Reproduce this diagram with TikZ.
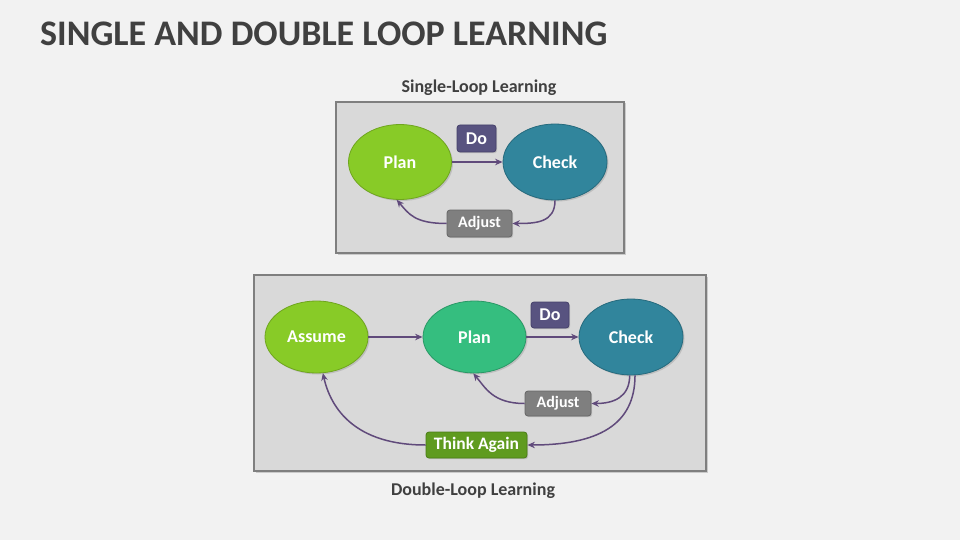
\documentclass[tikz,border=0pt]{standalone}
\usepackage{fontspec}
\setmainfont{Carlito}
\usetikzlibrary{arrows.meta,shadows,shapes.geometric}
\definecolor{bgc}{HTML}{F2F2F2}
\definecolor{panel}{HTML}{D9D9D9}
\definecolor{panelline}{HTML}{7F7F7F}
\definecolor{lime}{HTML}{88CB27}
\definecolor{limeline}{HTML}{6FA51E}
\definecolor{seag}{HTML}{35BE7F}
\definecolor{seagline}{HTML}{2A9866}
\definecolor{teal}{HTML}{31859C}
\definecolor{tealline}{HTML}{266A7D}
\definecolor{dobox}{HTML}{585380}
\definecolor{doline}{HTML}{45406A}
\definecolor{adjbox}{HTML}{7F7F7F}
\definecolor{adjline}{HTML}{666666}
\definecolor{thinkbox}{HTML}{5F9B1F}
\definecolor{thinkline}{HTML}{4A7C16}
\definecolor{arrowc}{HTML}{604A7B}
\definecolor{darktext}{HTML}{404040}
\begin{document}
\begin{tikzpicture}[x=1pt,y=-1pt,
  panelbox/.style={draw=panelline,line width=1.5pt,fill=panel,inner sep=0pt,
    drop shadow={opacity=0.35,shadow xshift=1.5pt,shadow yshift=-1.5pt}},
  oval/.style={ellipse,draw,line width=0.8pt,minimum width=103pt,minimum height=75pt,inner sep=0pt,
    text=white,font=\bfseries\fontsize{18}{21}\selectfont,
    drop shadow={opacity=0.3,shadow xshift=1.5pt,shadow yshift=-1.5pt}},
  tag/.style={draw,line width=0.8pt,rounded corners=3pt,inner sep=0pt,text=white,
    drop shadow={opacity=0.3,shadow xshift=1.2pt,shadow yshift=-1.2pt}},
  arr/.style={draw=arrowc,line width=1.5pt,-{Stealth[length=7.5pt,width=6.5pt,inset=2.5pt]}},
  caption/.style={text=darktext,font=\bfseries\fontsize{18}{21}\selectfont}
]
\fill[bgc] (0,0) rectangle (960,540);
\useasboundingbox (0,0) rectangle (960,540);

\node[anchor=base west,text=darktext,font=\bfseries\fontsize{36}{40}\selectfont,inner sep=0pt] (title) at (40,46) {SINGLE AND DOUBLE LOOP LEARNING};

% Single loop
\node[caption] (cap1) at (479,88) {Single-Loop Learning};
\node[panelbox,minimum width=288pt,minimum height=151pt] (box1) at (480,177.5) {};
\node[oval,fill=lime,draw=limeline] (p1) at (400,162) {Plan};
\node[oval,fill=teal,draw=tealline,minimum width=104pt,minimum height=76pt] (c1) at (555,162) {Check};
\node[tag,fill=dobox,draw=doline,minimum width=39pt,minimum height=27pt,font=\bfseries\fontsize{18}{20}\selectfont] (do1) at (476.5,138.5) {Do};
\node[tag,fill=adjbox,draw=adjline,minimum width=65pt,minimum height=27pt,font=\bfseries\fontsize{16}{18}\selectfont] (adj1) at (479.5,223.5) {Adjust};
\draw[arr] (p1.east) -- (c1.west);
\draw[arr] (c1.south) .. controls +(0,22) and +(24,0) .. (adj1.east);
\draw[arr] (adj1.west) .. controls +(-32,0) and +(12,14) .. (p1.-95);

% Double loop
\node[panelbox,minimum width=452pt,minimum height=196pt] (box2) at (480,373) {};
\node[caption] (cap2) at (473,491) {Double-Loop Learning};
\node[oval,fill=lime,draw=limeline,minimum height=72pt] (a2) at (316.5,337) {Assume};
\node[oval,fill=seag,draw=seagline,minimum height=72pt] (p2) at (474.5,337) {Plan};
\node[oval,fill=teal,draw=tealline,minimum width=104pt,minimum height=76pt] (c2) at (631,337) {Check};
\node[tag,fill=dobox,draw=doline,minimum width=38pt,minimum height=26pt,font=\bfseries\fontsize{18}{20}\selectfont] (do2) at (550,315) {Do};
\node[tag,fill=adjbox,draw=adjline,minimum width=66pt,minimum height=25pt,font=\bfseries\fontsize{16}{18}\selectfont] (adj2) at (558,403.5) {Adjust};
\node[tag,fill=thinkbox,draw=thinkline,minimum width=101pt,minimum height=26pt,font=\bfseries\fontsize{17.5}{20}\selectfont] (think) at (476.5,445) {Think Again};
\draw[arr] (a2.east) -- (p2.west);
\draw[arr] (p2.east) -- (c2.west);
\draw[arr] (c2.-92) .. controls +(0,22) and +(22,0) .. (adj2.east);
\draw[arr] (adj2.west) .. controls +(-32,0) and +(12,14) .. (p2.-92);
\draw[arr] (c2.-84) .. controls +(0,50) and +(70,0) .. (think.east);
\draw[arr] (think.west) .. controls +(-70,0) and +(8,36) .. (a2.-80);
\end{tikzpicture}
\end{document}
